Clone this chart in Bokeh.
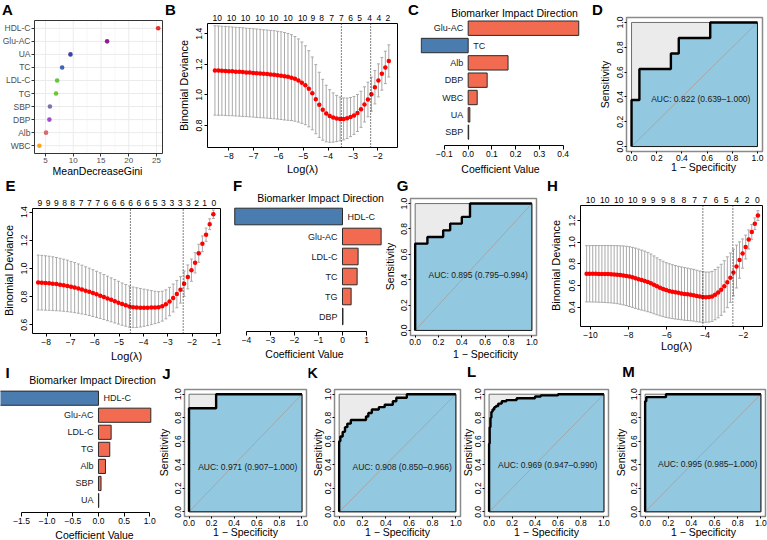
import math
from bokeh.plotting import figure
from bokeh.layouts import row, column
from bokeh.models import Range1d, FixedTicker, Label, LinearAxis
from bokeh.core.properties import value
from bokeh.embed import file_html
from bokeh.resources import INLINE

FONT = "Liberation Sans"
MINUS = "\u2212"

# ---------------- A: random-forest importance ----------------
gini_vars = ["HDL-C", "Glu-AC", "UA", "TC", "LDL-C", "TG", "SBP", "DBP", "Alb", "WBC"]
gini_vals = [25.3, 16.1, 9.5, 8.0, 7.1, 6.9, 5.8, 5.7, 5.1, 3.9]
gini_colors = ["#E8302A", "#8E1F8E", "#3A45A5", "#3E64B4", "#5DC83C",
               "#6EC531", "#7C72B2", "#9E4DC8", "#D7696F", "#F7A520"]
gini_ticks = [5, 10, 15, 20, 25]

# ---------------- B: LASSO cross-validation (model 1) ----------------
cvB_loglam = [-8.56, -8.42, -8.28, -8.14, -8.00, -7.86, -7.72, -7.58, -7.44, -7.30,
              -7.16, -7.02, -6.88, -6.74, -6.60, -6.46, -6.32, -6.18, -6.04, -5.90,
              -5.76, -5.62, -5.48, -5.34, -5.20, -5.06, -4.92, -4.78, -4.64, -4.50,
              -4.36, -4.22, -4.08, -3.94, -3.80, -3.66, -3.52, -3.38, -3.24, -3.10,
              -2.96, -2.82, -2.68, -2.54, -2.40, -2.26, -2.12, -1.98, -1.84, -1.70, -1.56]
cvB_mean = [1.160, 1.159, 1.158, 1.157, 1.155, 1.154, 1.152, 1.151, 1.149, 1.147,
            1.146, 1.144, 1.142, 1.140, 1.138, 1.136, 1.134, 1.132, 1.129, 1.126,
            1.122, 1.118, 1.113, 1.105, 1.094, 1.080, 1.063, 1.040, 1.010, 0.972,
            0.935, 0.903, 0.878, 0.862, 0.852, 0.846, 0.843, 0.843, 0.847, 0.855,
            0.866, 0.882, 0.906, 0.938, 0.970, 1.005, 1.050, 1.095, 1.138, 1.180, 1.222]
cvB_sd = [0.292, 0.292, 0.291, 0.291, 0.291, 0.290, 0.290, 0.290, 0.290, 0.289,
          0.289, 0.289, 0.289, 0.289, 0.288, 0.288, 0.288, 0.288, 0.287, 0.287,
          0.286, 0.284, 0.281, 0.277, 0.272, 0.266, 0.258, 0.249, 0.238, 0.226,
          0.213, 0.199, 0.185, 0.172, 0.161, 0.151, 0.143, 0.137, 0.132, 0.128,
          0.124, 0.121, 0.118, 0.115, 0.113, 0.111, 0.109, 0.108, 0.107, 0.106, 0.105]
cvB_lambda_lines = [-3.47, -2.29]
cvB_nzero_at = [-8.47, -7.89, -7.33, -6.75, -6.19, -5.62, -5.03, -4.62, -4.27, -3.86,
                -3.47, -3.10, -2.74, -2.33, -1.96, -1.60]
cvB_nzero = ["10", "10", "10", "10", "10", "10", "10", "9", "8", "7",
             "7", "6", "5", "4", "4", "2"]

# ---------------- C: coefficients (model 1) ----------------
coefC_vars = ["Glu-AC", "TC", "Alb", "DBP", "WBC", "UA", "SBP"]
coefC_vals = [0.466, -0.198, 0.168, 0.080, 0.038, 0.007, 0.002]
coefC_ticks = [-0.1, 0.0, 0.1, 0.2, 0.3, 0.4]

# ---------------- D: ROC (model 1) ----------------
rocD_fpr = [0.0625, 0.3125, 0.375, 0.625]
rocD_tpr = [0.375, 0.625, 0.75, 0.875, 1.0]
rocD_auc = "AUC: 0.822 (0.639\u20131.000)"

# ---------------- E: LASSO cross-validation (model 2) ----------------
cvE_loglam = [-8.33, -8.18, -8.03, -7.88, -7.73, -7.58, -7.43, -7.28, -7.13, -6.98,
              -6.83, -6.68, -6.53, -6.38, -6.23, -6.08, -5.93, -5.78, -5.63, -5.48,
              -5.33, -5.18, -5.03, -4.88, -4.73, -4.58, -4.43, -4.28, -4.13, -3.98,
              -3.83, -3.68, -3.53, -3.38, -3.23, -3.08, -2.93, -2.78, -2.63, -2.48,
              -2.33, -2.18, -2.03, -1.88, -1.73, -1.58, -1.43, -1.28, -1.13]
cvE_mean = [0.900, 0.899, 0.897, 0.895, 0.892, 0.889, 0.885, 0.881, 0.876, 0.870,
            0.864, 0.857, 0.850, 0.842, 0.834, 0.825, 0.816, 0.807, 0.797, 0.787,
            0.777, 0.767, 0.757, 0.747, 0.738, 0.729, 0.724, 0.722, 0.721, 0.721,
            0.721, 0.722, 0.723, 0.725, 0.732, 0.745, 0.765, 0.790, 0.818, 0.848,
            0.892, 0.940, 0.988, 1.040, 1.108, 1.175, 1.240, 1.315, 1.385]
cvE_sd = [0.195, 0.194, 0.193, 0.192, 0.191, 0.189, 0.187, 0.185, 0.183, 0.180,
          0.178, 0.175, 0.173, 0.170, 0.168, 0.166, 0.164, 0.162, 0.160, 0.158,
          0.156, 0.154, 0.152, 0.150, 0.148, 0.146, 0.144, 0.141, 0.137, 0.132,
          0.127, 0.121, 0.115, 0.110, 0.106, 0.103, 0.101, 0.099, 0.097, 0.094,
          0.090, 0.085, 0.079, 0.072, 0.064, 0.056, 0.047, 0.038, 0.030]
cvE_lambda_lines = [-4.54, -2.37]
cvE_nzero_at = [-8.26, -7.92, -7.58, -7.24, -6.91, -6.57, -6.23, -5.89, -5.55, -5.21,
                -4.87, -4.53, -4.19, -3.85, -3.52, -3.18, -2.84, -2.50, -2.16, -1.82,
                -1.49, -1.11]
cvE_nzero = ["9", "9", "9", "8", "8", "7", "7", "7", "6", "6",
             "6", "6", "6", "6", "5", "3", "3", "3", "3", "2", "1", "0"]

# ---------------- F: coefficients (model 2) ----------------
coefF_vars = ["HDL-C", "Glu-AC", "LDL-C", "TC", "TG", "DBP"]
coefF_vals = [-4.49, 1.61, 0.65, 0.61, 0.36, 0.02]
coefF_ticks = [-4, -3, -2, -1, 0, 1]

# ---------------- G: ROC (model 2) ----------------
rocG_fpr = [0.105, 0.24, 0.30, 0.40, 0.47]
rocG_tpr = [0.684, 0.737, 0.789, 0.842, 0.895, 1.0]
rocG_auc = "AUC: 0.895 (0.795\u20130.994)"

# ---------------- H: LASSO cross-validation (model 3) ----------------
cvH_loglam = [-10.20, -10.04, -9.88, -9.72, -9.56, -9.40, -9.24, -9.08, -8.92, -8.76,
              -8.60, -8.44, -8.28, -8.12, -7.96, -7.80, -7.64, -7.48, -7.32, -7.16,
              -7.00, -6.84, -6.68, -6.52, -6.36, -6.20, -6.04, -5.88, -5.72, -5.56,
              -5.40, -5.24, -5.08, -4.92, -4.76, -4.60, -4.44, -4.28, -4.12, -3.96,
              -3.80, -3.64, -3.48, -3.32, -3.16, -3.00, -2.84, -2.68, -2.52, -2.36,
              -2.20, -2.04, -1.88, -1.72, -1.56, -1.40, -1.24]
cvH_mean = [0.708, 0.708, 0.708, 0.708, 0.707, 0.707, 0.706, 0.705, 0.704, 0.702,
            0.700, 0.697, 0.693, 0.688, 0.682, 0.675, 0.667, 0.658, 0.650, 0.642,
            0.632, 0.620, 0.606, 0.592, 0.579, 0.568, 0.558, 0.550, 0.543, 0.537,
            0.532, 0.527, 0.522, 0.518, 0.514, 0.510, 0.503, 0.498, 0.494, 0.492,
            0.493, 0.499, 0.515, 0.535, 0.560, 0.592, 0.630, 0.672, 0.720, 0.775,
            0.835, 0.895, 0.955, 1.025, 1.095, 1.170, 1.246]
cvH_sd = [0.260, 0.260, 0.261, 0.261, 0.262, 0.262, 0.263, 0.264, 0.265, 0.266,
          0.268, 0.270, 0.272, 0.274, 0.276, 0.277, 0.278, 0.278, 0.277, 0.276,
          0.274, 0.271, 0.267, 0.263, 0.259, 0.256, 0.253, 0.251, 0.249, 0.247,
          0.245, 0.244, 0.243, 0.242, 0.240, 0.239, 0.238, 0.236, 0.234, 0.232,
          0.231, 0.231, 0.232, 0.234, 0.236, 0.237, 0.235, 0.228, 0.215, 0.198,
          0.168, 0.135, 0.110, 0.088, 0.068, 0.054, 0.045]
cvH_lambda_lines = [-4.12, -2.55]
cvH_nzero_at = [-10.0, -9.25, -8.52, -7.79, -7.21, -6.72, -6.19, -5.69, -5.11, -4.55,
                -4.01, -3.42, -2.90, -2.36, -1.80, -1.27]
cvH_nzero = ["10", "10", "10", "10", "9", "9", "9", "8", "8", "7",
             "7", "6", "5", "4", "2", "0"]

# ---------------- I: coefficients (model 3) ----------------
coefI_vars = ["HDL-C", "Glu-AC", "LDL-C", "TG", "Alb", "SBP", "UA"]
coefI_vals = [-1.95, 1.02, 0.247, 0.22, 0.136, 0.05, 0.005]
coefI_ticks = [-1.5, -1.0, -0.5, 0.0, 0.5, 1.0]

# ---------------- J-M: ROC curves ----------------
rocJ_fpr = [0.24]
rocJ_tpr = [0.88, 1.0]
rocJ_auc = "AUC: 0.971 (0.907\u20131.000)"

rocK_fpr = [0.01, 0.03, 0.05, 0.07, 0.10, 0.23, 0.25, 0.28, 0.34, 0.39, 0.46, 0.49, 0.58]
rocK_tpr = [0.60, 0.64, 0.68, 0.72, 0.75, 0.78, 0.81, 0.84, 0.87, 0.89, 0.91, 0.94, 0.97, 1.0]
rocK_auc = "AUC: 0.908 (0.850\u20130.966)"

rocL_fpr = [0.005, 0.012, 0.02, 0.03, 0.045, 0.06, 0.08, 0.11, 0.15, 0.24, 0.40, 0.45, 0.60]
rocL_tpr = [0.58, 0.72, 0.80, 0.85, 0.87, 0.89, 0.90, 0.92, 0.94, 0.95, 0.965, 0.98, 0.99, 1.0]
rocL_auc = "AUC: 0.969 (0.947\u20130.990)"

rocM_fpr = [0.01, 0.18]
rocM_tpr = [0.94, 0.975, 1.0]
rocM_auc = "AUC: 0.995 (0.985\u20131.000)"

ROC_TICKS = [0.0, 0.2, 0.4, 0.6, 0.8, 1.0]
ROC_LIM = (-0.04, 1.04)
ROC_FILL = "#93C9E0"
BAR_POS = "#F26B50"
BAR_NEG = "#4A7CB0"


def num_label(t, digits):
    s = f"{abs(t):.{digits}f}"
    return MINUS + s if t < 0 else s


class Panel:
    """A figure whose plotting area fills its whole canvas; the panel's own
    plot box (in page pixels) is mapped onto the given data limits."""

    def __init__(self, page, box, xlim, ylim):
        x0, x1, y0, y1 = page
        bl, br, bt, bb = box
        self.xlim, self.ylim = xlim, ylim
        self.sx = (xlim[1] - xlim[0]) / (br - bl)
        self.sy = (ylim[1] - ylim[0]) / (bb - bt)
        self.bl, self.bt = bl, bt
        xr = (xlim[0] - (bl - x0) * self.sx, xlim[1] + (x1 - br) * self.sx)
        yr = (ylim[0] - (y1 - bb) * self.sy, ylim[1] + (bt - y0) * self.sy)
        p = figure(width=x1 - x0, height=y1 - y0,
                   x_range=Range1d(*xr), y_range=Range1d(*yr),
                   x_axis_location=None, y_axis_location=None,
                   min_border_left=0, min_border_right=0,
                   min_border_top=0, min_border_bottom=0,
                   toolbar_location=None, output_backend="svg")
        p.title.visible = False
        p.grid.visible = False
        p.outline_line_color = None
        p.background_fill_color = "white"
        p.border_fill_color = "white"
        self.p = p

    def at(self, px, py):
        return (self.xlim[0] + (px - self.bl) * self.sx,
                self.ylim[1] - (py - self.bt) * self.sy)

    def frame(self, color, width=1.0):
        self.p.quad(left=self.xlim[0], right=self.xlim[1], bottom=self.ylim[0], top=self.ylim[1],
                    fill_color=None, line_color=color, line_width=width)

    def axis(self, side, ticks, labels, size=8.5, tick_out=3, standoff=2, vertical=False,
             line_color=None, bounds=None, tick_color="black", text_color="black"):
        loc = {"below": self.ylim[0], "above": self.ylim[1], "left": self.xlim[0]}[side]
        ax = LinearAxis(ticker=FixedTicker(ticks=list(ticks)),
                        major_label_overrides={t: l for t, l in zip(ticks, labels)},
                        fixed_location=loc,
                        major_tick_out=tick_out, major_tick_in=0,
                        minor_tick_out=0, minor_tick_in=0,
                        major_label_standoff=standoff,
                        major_label_text_font=FONT,
                        major_label_text_font_size=f"{size}px",
                        major_label_text_color=text_color,
                        major_tick_line_color=tick_color if tick_out > 0 else None,
                        axis_line_color=line_color)
        if vertical:
            ax.major_label_orientation = "vertical"
        ax.bounds = bounds if bounds is not None else (ticks[0], ticks[-1])
        self.p.add_layout(ax, side)

    def note(self, px, py, text, size, bold=False, vertical=False, color="black"):
        x, y = self.at(px, py)
        self.p.add_layout(Label(x=x, y=y, text=text, text_font=FONT,
                                text_font_size=f"{size}px",
                                text_font_style="bold" if bold else "normal",
                                text_color=color, text_align="center",
                                text_baseline="middle",
                                angle=math.pi / 2 if vertical else 0))


def cv_panel(page, box, xlim, ylim, loglam, mean, sd, vlines, xticks, yticks,
             top_at, top_lab, cap):
    pn = Panel(page, box, xlim, ylim)
    p = pn.p
    lo = [m - s for m, s in zip(mean, sd)]
    hi = [m + s for m, s in zip(mean, sd)]
    grey = "#A9A9A9"
    left = [x - cap for x in loglam]
    right = [x + cap for x in loglam]
    p.segment(x0=loglam, y0=lo, x1=loglam, y1=hi, line_color=grey, line_width=1)
    p.segment(x0=left, y0=hi, x1=right, y1=hi, line_color=grey, line_width=1)
    p.segment(x0=left, y0=lo, x1=right, y1=lo, line_color=grey, line_width=1)
    p.scatter(x=loglam, y=mean, size=4.5, fill_color="red", line_color=None)
    p.segment(x0=vlines, y0=[ylim[0]] * len(vlines), x1=vlines, y1=[ylim[1]] * len(vlines),
              line_color="black", line_width=1, line_dash="1 2")
    pn.frame("black", 1.0)
    pn.axis("below", xticks, [num_label(t, 0) for t in xticks], tick_out=3, standoff=2)
    pn.axis("left", yticks, [num_label(t, 1) for t in yticks], tick_out=3, standoff=2,
            vertical=True)
    pn.axis("above", top_at, top_lab, tick_out=0, standoff=3)
    return pn


def coef_panel(page, box, xlim, ylim, names, vals, ticks, digits, bar_height=0.83):
    pn = Panel(page, box, xlim, ylim)
    p = pn.p
    pos = list(range(len(names) - 1, -1, -1))
    colors = [BAR_POS if v > 0 else BAR_NEG for v in vals]
    p.hbar(y=pos, left=0, right=vals, height=bar_height, fill_color=colors,
           line_color="#2A2A2A", line_width=1)
    right_side = [(y, n) for y, n, v in zip(pos, names, vals) if v < 0]
    left_side = [(y, n) for y, n, v in zip(pos, names, vals) if v >= 0]
    for items, off, align in ((left_side, -5, "right"), (right_side, 5, "left")):
        if items:
            p.text(x=[0] * len(items), y=[y for y, _ in items], text=[n for _, n in items],
                   x_offset=off, text_align=align, text_baseline="middle",
                   text_font=value(FONT), text_font_size="9px", text_color="#1A1A1A")
    pn.axis("below", ticks, [num_label(t, digits) for t in ticks], tick_out=4, standoff=1,
            line_color="black")
    return pn


def roc_panel(page, box, fpr, tpr, auc_label, auc_xy):
    pn = Panel(page, box, ROC_LIM, ROC_LIM)
    p = pn.p
    xs, ys = [0.0, 0.0], [0.0, tpr[0]]
    cur = tpr[0]
    for f, t in zip(fpr, tpr[1:]):
        xs += [f, f]
        ys += [cur, t]
        cur = t
    xs.append(1.0)
    ys.append(cur)
    p.patch([0, 0, 1, 1], [0, 1, 1, 0], fill_color="#EBEBEB", line_color="#6E6E6E", line_width=1)
    p.patch(xs + [1.0], ys + [0.0], fill_color=ROC_FILL, line_color="#1A1A1A", line_width=1)
    p.line([0, 1], [0, 1], line_color="#A6A6A6", line_width=1)
    p.line(xs, ys, line_color="black", line_width=2.4)
    p.text(x=[auc_xy[0]], y=[auc_xy[1]], text=[auc_label], text_align="center",
           text_baseline="middle", text_font=value(FONT), text_font_size="8.5px",
           text_color="#1A1A1A")
    pn.frame("#8A8A8A", 1.5)
    labels = [f"{t:.1f}" for t in ROC_TICKS]
    pn.axis("below", ROC_TICKS, labels, tick_out=2, standoff=1)
    pn.axis("left", ROC_TICKS, labels, tick_out=2, standoff=1, vertical=True)
    return pn


# ---------------- row 1 ----------------
A = Panel((0, 164, 0, 177), (34, 162, 20, 153), (3.02, 26.08), (0.4, 10.6))
ypos = list(range(len(gini_vars), 0, -1))
minor = [7.5, 12.5, 17.5, 22.5]
A.p.segment(x0=minor, y0=[0.4] * 4, x1=minor, y1=[10.6] * 4, line_color="#F3F3F3", line_width=0.6)
A.p.segment(x0=gini_ticks, y0=[0.4] * 5, x1=gini_ticks, y1=[10.6] * 5,
            line_color="#EBEBEB", line_width=1)
A.p.segment(x0=[3.02] * len(ypos), y0=ypos, x1=[26.08] * len(ypos), y1=ypos,
            line_color="#EBEBEB", line_width=1)
A.p.scatter(x=gini_vals, y=ypos, size=4.6, fill_color=gini_colors, line_color=None)
A.frame("#333333", 1.0)
A.axis("below", gini_ticks, [str(t) for t in gini_ticks], size=8, tick_out=3, standoff=1,
       tick_color="#333333", text_color="#4D4D4D")
A.axis("left", ypos, gini_vars, size=8.5, tick_out=3, standoff=1,
       tick_color="#333333", text_color="#4D4D4D")
A.note(7, 9, "A", 15, bold=True)
A.note(97, 170, "MeanDecreaseGini", 10.5)

B = cv_panel((164, 420, 0, 177), (207, 397, 23, 147), (-8.86, -1.21), (0.656, 1.467),
             cvB_loglam, cvB_mean, cvB_sd, cvB_lambda_lines,
             [-8, -7, -6, -5, -4, -3, -2], [0.8, 1.0, 1.2, 1.4],
             cvB_nzero_at, cvB_nzero, 0.06)
B.note(170, 9, "B", 15, bold=True)
B.note(183, 85, "Binomial Deviance", 11, vertical=True)
B.note(302, 168, "Log(\u03bb)", 11)
B.note(413, 9, "C", 15, bold=True)

C = coef_panel((420, 590, 0, 177), (420, 578, 18, 145), (-0.201, 0.465), (-0.77, 6.56),
               coefC_vars, coefC_vals, coefC_ticks, 1)
C.note(514, 12, "Biomarker Impact Direction", 10.5)
C.note(500, 168, "Coefficient Value", 10.5)

D = roc_panel((590, 767, 0, 177), (626, 762, 17, 151), rocD_fpr, rocD_tpr, rocD_auc, (0.55, 0.38))
D.note(597, 9, "D", 15, bold=True)
D.note(604, 84, "Sensitivity", 10.5, vertical=True)
D.note(703, 166, "1 \u2212 Specificity", 10.5)

# ---------------- row 2 ----------------
E = cv_panel((0, 228, 177, 362), (32, 220, 208, 333), (-8.563, -0.836), (0.538, 1.426),
             cvE_loglam, cvE_mean, cvE_sd, cvE_lambda_lines,
             [-8, -7, -6, -5, -4, -3, -2, -1], [0.6, 0.8, 1.0, 1.2, 1.4],
             cvE_nzero_at, cvE_nzero, 0.06)
E.note(10, 185, "E", 15, bold=True)
E.note(8, 270, "Binomial Deviance", 11, vertical=True)
E.note(126, 355, "Log(\u03bb)", 11)

F = coef_panel((228, 384, 177, 362), (228, 384, 204, 331), (-4.75, 1.75), (-0.75, 5.6),
               coefF_vars, coefF_vals, coefF_ticks, 0)
F.note(237, 185, "F", 15, bold=True)
F.note(320, 197, "Biomarker Impact Direction", 10.5)
F.note(304, 353, "Coefficient Value", 10.5)

G = roc_panel((384, 545, 177, 362), (410, 536, 198, 335), rocG_fpr, rocG_tpr, rocG_auc, (0.54, 0.44))
G.note(402, 185, "G", 15, bold=True)
G.note(389.5, 266, "Sensitivity", 10.5, vertical=True)
G.note(485, 353, "1 \u2212 Specificity", 10.5)

H = cv_panel((545, 767, 177, 362), (580, 762, 205, 326), (-10.52, -1.0), (0.221, 1.339),
             cvH_loglam, cvH_mean, cvH_sd, cvH_lambda_lines,
             [-10, -8, -6, -4, -2], [0.4, 0.6, 0.8, 1.0, 1.2],
             cvH_nzero_at, cvH_nzero, 0.08)
H.note(552, 185, "H", 15, bold=True)
H.note(555, 265, "Binomial Deviance", 11, vertical=True)
H.note(676, 345, "Log(\u03bb)", 11)

# ---------------- row 3 ----------------
I = coef_panel((0, 156, 362, 540), (0, 156, 386, 512), (-1.91, 1.131), (-0.704, 6.686),
               coefI_vars, coefI_vals, coefI_ticks, 1)
I.note(7, 372, "I", 15, bold=True)
I.note(92, 379, "Biomarker Impact Direction", 10.5)
I.note(94, 534, "Coefficient Value", 10.5)

roc_row = [
    ((156, 308), (184, 306), rocJ_fpr, rocJ_tpr, rocJ_auc, (0.52, 0.38), "J", (166, 373), 163, 245),
    ((308, 462), (334, 460), rocK_fpr, rocK_tpr, rocK_auc, (0.54, 0.38), "K", (312, 372), 317, 397),
    ((462, 612), (484, 608), rocL_fpr, rocL_tpr, rocL_auc, (0.51, 0.40), "L", (471, 371), 467, 546),
    ((612, 767), (640, 765), rocM_fpr, rocM_tpr, rocM_auc, (0.54, 0.41), "M", (628, 371), 620, 703),
]
row3 = [I.p]
for (x0, x1), (bl, br), fpr, tpr, auc, auc_xy, letter, lxy, ylab_x, xlab_x in roc_row:
    pn = roc_panel((x0, x1, 362, 540), (bl, br, 389, 516), fpr, tpr, auc, auc_xy)
    pn.note(lxy[0], lxy[1], letter, 15, bold=True)
    pn.note(ylab_x, 452, "Sensitivity", 10.5, vertical=True)
    pn.note(xlab_x, 531, "1 \u2212 Specificity", 10.5)
    row3.append(pn.p)

layout = column(row(A.p, B.p, C.p, D.p), row(E.p, F.p, G.p, H.p), row(*row3))

with open("out.html", "w") as f:
    f.write(file_html(layout, INLINE))
